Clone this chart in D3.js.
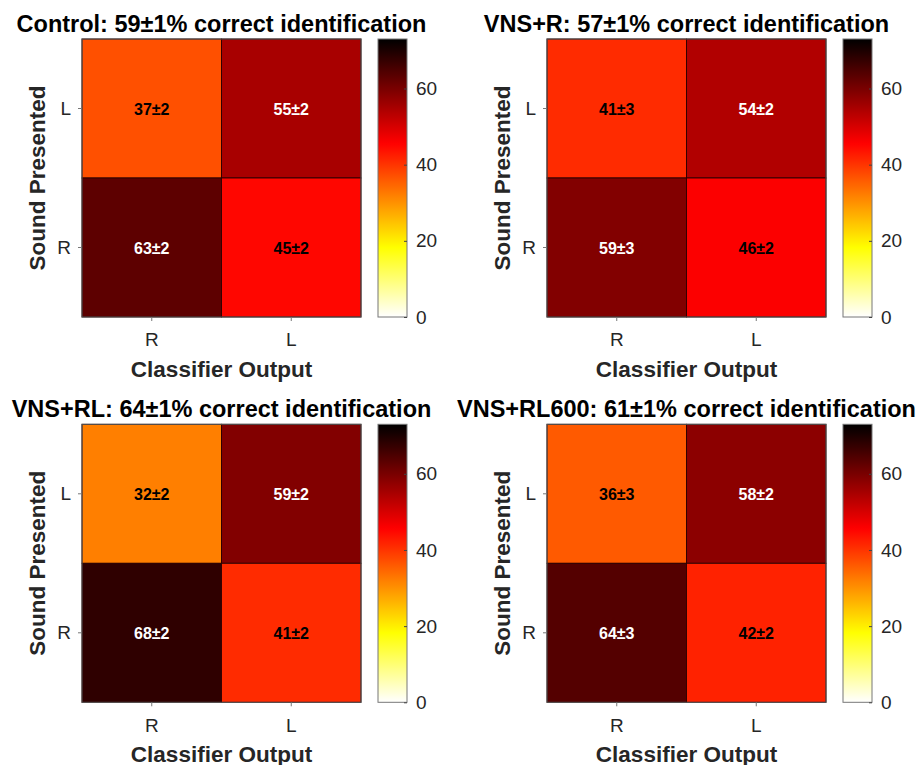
<!DOCTYPE html>
<html>
<head>
<meta charset="utf-8">
<script src="https://cdn.jsdelivr.net/npm/d3@7"></script>
<style>
  html, body { margin: 0; padding: 0; background: #fff; }
  svg { display: block; font-family: Arial, "Liberation Sans", Helvetica, sans-serif; }
</style>
</head>
<body>
<svg id="chart" width="919" height="765"></svg>
<script>
// ---------- data ----------
const panelTitles = [
  "Control: 59\u00b11% correct identification",
  "VNS+R: 57\u00b11% correct identification",
  "VNS+RL: 64\u00b11% correct identification",
  "VNS+RL600: 61\u00b11% correct identification"
];
const classifierOutput = ["R", "L"];   // columns
const soundPresented = ["L", "R"];     // rows, top to bottom
// values per panel: [row L: (R, L)], [row R: (R, L)]
const controlMeans   = [[37, 55], [63, 45]];
const controlErr     = [[2, 2], [2, 2]];
const vnsRMeans      = [[41, 54], [59, 46]];
const vnsRErr        = [[3, 2], [3, 2]];
const vnsRLMeans     = [[32, 59], [68, 41]];
const vnsRLErr       = [[2, 2], [2, 2]];
const vnsRL600Means  = [[36, 58], [64, 42]];
const vnsRL600Err    = [[3, 2], [3, 2]];
const colorTicks = [0, 20, 40, 60];
const colorMax = 73;

const panelMeans = [controlMeans, vnsRMeans, vnsRLMeans, vnsRL600Means];
const panelErrs  = [controlErr, vnsRErr, vnsRLErr, vnsRL600Err];

// ---------- colormap: reversed MATLAB "hot" ----------
function hotReversed(f) {
  const t = 1 - Math.max(0, Math.min(1, f));
  const r = Math.min(1, t / 0.375);
  const g = Math.max(0, Math.min(1, (t - 0.375) / 0.375));
  const b = Math.max(0, Math.min(1, (t - 0.75) / 0.25));
  return d3.rgb(r * 255, g * 255, b * 255).toString();
}
const color = d3.scaleSequential(hotReversed).domain([0, colorMax]);

const svg = d3.select("#chart");
const defs = svg.append("defs");
const grad = defs.append("linearGradient").attr("id", "cbgrad")
  .attr("x1", 0).attr("y1", 1).attr("x2", 0).attr("y2", 0);
d3.range(0, 101).forEach(i => {
  grad.append("stop").attr("offset", (i / 100)).attr("stop-color", color(colorMax * i / 100));
});

const W = 279, H = 278;
const axisColor = "#262626";

panelTitles.forEach((title, i) => {
  const c = i % 2, r = Math.floor(i / 2);
  const x0 = 82 + 465 * c;
  const y0 = 39 + 385.3 * r;
  const g = svg.append("g").attr("transform", `translate(${x0},${y0})`);

  const x = d3.scaleBand().domain(classifierOutput).range([0, W]);
  const y = d3.scaleBand().domain(soundPresented).range([0, H]);

  const cells = [];
  soundPresented.forEach((rowLab, ri) => {
    classifierOutput.forEach((colLab, ci) => {
      cells.push({ row: rowLab, col: colLab, v: panelMeans[i][ri][ci], e: panelErrs[i][ri][ci] });
    });
  });

  g.selectAll("rect.cell").data(cells).enter().append("rect")
    .attr("class", "cell")
    .attr("x", d => x(d.col)).attr("y", d => y(d.row))
    .attr("width", x.bandwidth()).attr("height", y.bandwidth())
    .attr("fill", d => color(d.v))
    .attr("stroke", "#2a0000").attr("stroke-width", 0.9);

  g.selectAll("text.val").data(cells).enter().append("text")
    .attr("class", "val")
    .attr("x", d => x(d.col) + x.bandwidth() / 2)
    .attr("y", d => y(d.row) + y.bandwidth() / 2 + 6)
    .attr("text-anchor", "middle")
    .attr("font-size", 16).attr("font-weight", "bold")
    .attr("fill", d => d.v > 50 ? "#ffffff" : "#000000")
    .text(d => `${d.v}\u00b1${d.e}`);

  // box
  g.append("rect").attr("x", 0).attr("y", 0).attr("width", W).attr("height", H)
    .attr("fill", "none").attr("stroke", "#555").attr("stroke-width", 1);

  // axes
  const xAxis = g.append("g").attr("transform", `translate(0,${H})`)
    .call(d3.axisBottom(x).tickSizeInner(4).tickSizeOuter(0).tickPadding(12));
  const yAxis = g.append("g")
    .call(d3.axisLeft(y).tickSizeInner(4).tickSizeOuter(0).tickPadding(7));
  [xAxis, yAxis].forEach(a => {
    a.select(".domain").remove();
    a.selectAll(".tick line").attr("stroke", "#777");
    a.selectAll(".tick text").attr("fill", axisColor).attr("font-size", 19)
      .attr("font-family", "Arial, 'Liberation Sans', sans-serif");
  });

  // labels
  g.append("text").attr("x", W / 2).attr("y", -7)
    .attr("text-anchor", "middle").attr("font-size", 23.5).attr("font-weight", "bold")
    .attr("fill", "#000").text(title);
  g.append("text").attr("x", W / 2).attr("y", H + 60)
    .attr("text-anchor", "middle").attr("font-size", 22.5).attr("font-weight", "bold")
    .attr("fill", axisColor).text("Classifier Output");
  g.append("text").attr("transform", `translate(-37,${H / 2}) rotate(-90)`)
    .attr("text-anchor", "middle").attr("font-size", 22.5).attr("font-weight", "bold")
    .attr("fill", axisColor).text("Sound Presented");

  // colorbar
  const cbx = 296, cbw = 29;
  const cg = g.append("g").attr("transform", `translate(${cbx},0)`);
  cg.append("rect").attr("width", cbw).attr("height", H).attr("fill", "url(#cbgrad)")
    .attr("stroke", "#777").attr("stroke-width", 1);
  const cy = d3.scaleLinear().domain([0, colorMax]).range([H, 0]);
  const cax = cg.append("g").attr("transform", `translate(${cbw},0)`)
    .call(d3.axisRight(cy).tickValues(colorTicks).tickSizeInner(-3).tickSizeOuter(0).tickPadding(9));
  cax.select(".domain").remove();
  cax.selectAll(".tick line").attr("stroke", "#444");
  cax.selectAll(".tick text").attr("fill", axisColor).attr("font-size", 19)
    .attr("font-family", "Arial, 'Liberation Sans', sans-serif");
});
</script>
</body>
</html>
